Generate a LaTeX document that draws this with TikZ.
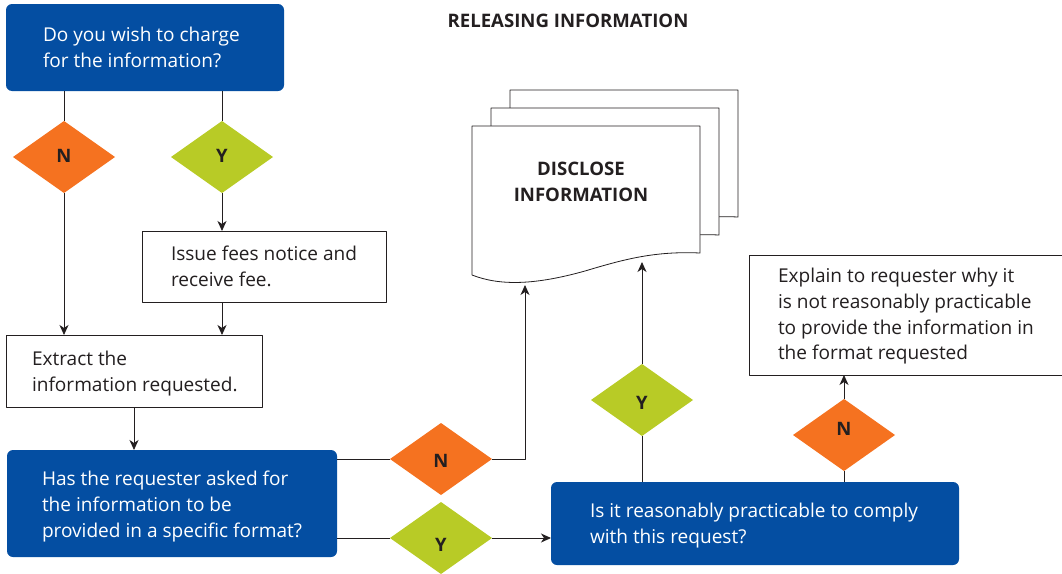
\documentclass[tikz,border=0pt]{standalone}
\usepackage{fontspec}
\setmainfont{Open Sans}
\usetikzlibrary{shapes.geometric,arrows.meta}
\definecolor{boxblue}{RGB}{4,78,162}
\definecolor{noorange}{RGB}{245,114,32}
\definecolor{yesgreen}{RGB}{184,203,38}
\definecolor{inkgrey}{RGB}{35,31,32}
\tikzset{
	anybox/.style={anchor=north west,inner sep=0pt,outer sep=0pt,align=flush left},
	askbox/.style={anybox,fill=boxblue,rounded corners=6pt,text=white},
	notebox/.style={anybox,draw=inkgrey,fill=white,line width=.8pt,text=inkgrey},
	choice/.style={diamond,aspect=1.42,inner sep=0pt,outer sep=0pt,minimum width=102pt,minimum height=72pt,text height=13pt,text depth=0pt,text=inkgrey,font=\fontsize{18.5}{22}\selectfont\bfseries},
	no/.style={choice,fill=noorange},
	yes/.style={choice,fill=yesgreen},
	sheet/.style={draw=inkgrey,fill=white,line width=.8pt},
	headline/.style={text=inkgrey,align=center,font=\fontsize{18.6}{26}\selectfont\bfseries}
}
\begin{document}
\begin{tikzpicture}[>={Stealth[length=10pt,width=9pt,inset=3pt]},line join=round,x=1pt,y=-1pt,font=\fontsize{19.05}{25.8}\selectfont,color=inkgrey,line width=.9pt]
	\useasboundingbox(0,0)rectangle(1062,573);
	\node[headline] (title) at (568,21) {RELEASING INFORMATION};
	% the pile of sheets
	\foreach \x/\y in {38/36,19/18,0/0}
	\draw[sheet,xshift=\x pt,yshift=\y pt] (472,126)--(700,126)--(700,253) .. controls (655,251) and (625,259) .. (585,271) .. controls (535,285) and (500,286) .. (472,275)--cycle;
	\coordinate (sheetA) at (525,285);
	\coordinate (sheetB) at (642,262);
	\node[headline] (disclose) at (581,182) {DISCLOSE\\INFORMATION};
	% boxes
	\foreach \i/\x/\y/\w/\h/\s/\p/\d/\t in {
		charge/6/4/278/87/askbox/37/0/{Do you wish to charge\\for the information?},
		fee/142/231/244/71/notebox/29/0/{Issue fees notice and\\receive fee.},
		extract/6/335/256/72/notebox/26/19/{Extract the\\information requested.},
		format/7/450/330/107/askbox/35/20/{Has the requester asked for\\the information to be\\provided in a specific format?},
		comply/551/482/408/83/askbox/39/19/{Is it reasonably practicable to comply\\with this request?},
		explain/749/255/320/120/notebox/29/17/{Explain to requester why it\\is not reasonably practicable\\to provide the information in\\the format requested}}
	\node[\s,minimum width=\w pt,minimum height=\h pt,text width=\w pt,execute at begin node={\leftskip=\p pt\relax}] (\i) at (\x,\y) {\rule{0pt}{\d pt}\t};
	% decisions
	\foreach \i/\s/\x/\y/\r/\t in {noA/no/64/157/1/N,yesA/yes/222/157/1/Y,noB/no/441/459/-2/N,yesB/yes/441/538/-7/Y,yesC/yes/642/400/-3/Y,noC/no/844/435/6/N}
	\node[\s] (\i) at (\x,\y) {\raisebox{\r pt}{\t}};
	% connectors
	\draw (charge.south-|noA)--(noA.north);
	\draw (charge.south-|yesA)--(yesA.north);
	\draw[->] (noA.south)--(noA.south|-extract.north);
	\draw[->] (yesA.south)--(yesA.south|-fee.north);
	\draw[->] (fee.south-|yesA)--(extract.north-|yesA);
	\draw[->] (extract.south)--(format.north-|extract.south);
	\draw (format.east|-noB)--(noB.west);
	\draw[->] (noB.east)-|(sheetA);
	\draw (format.east|-yesB)--(yesB.west);
	\draw[->] (yesB.east)--(comply.west|-yesB);
	\draw (comply.north-|yesC)--(yesC.south);
	\draw[->] (yesC.north)--(sheetB);
	\draw (comply.north-|noC)--(noC.south);
	\draw[->] (noC.north)--(explain.south-|noC);
\end{tikzpicture}
\end{document}
